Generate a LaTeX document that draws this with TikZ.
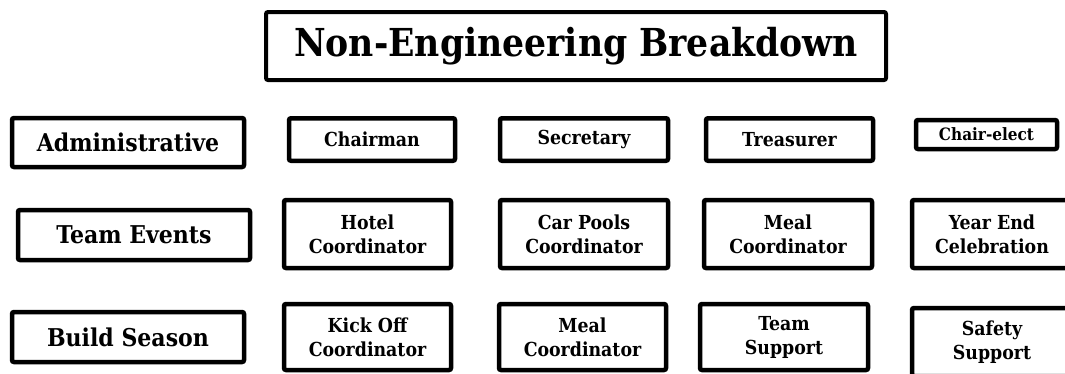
\documentclass[tikz,border=0pt]{standalone}
\usepackage{fontspec}
\setmainfont{DejaVu Serif Condensed}
\usetikzlibrary{positioning}

\begin{document}
\begin{tikzpicture}[x=1pt,y=-1pt,
  box/.style={draw, line width=4.5pt, rounded corners=2pt, align=center, inner sep=0pt,
    font=\bfseries\fontsize{19.3}{24}\selectfont},
  rowbox/.style={box, minimum width=232pt, minimum height=50pt,
    font=\bfseries\fontsize{24.5}{28}\selectfont},
  titlebox/.style={box, line width=4pt, font=\bfseries\fontsize{38.5}{44}\selectfont},
]
\useasboundingbox (0,0) rectangle (1065,373);
\clip (0,0) rectangle (1065,373);

\node[titlebox, minimum width=620pt, minimum height=68pt] (title) at (576,46) {Non-Engineering Breakdown};

% administrative row
\node[rowbox, minimum height=49pt] (admin) at (128,142.5) {Administrative};
\node[box, minimum width=166pt, minimum height=42.5pt] (chair) at (372,139.5) {Chairman};
\node[box, minimum width=168pt, minimum height=42.5pt] (secretary) at (584,139.5) {Secretary};
\node[box, minimum width=167pt, minimum height=42.5pt] (treasurer) at (789.5,139.5) {Treasurer};
\node[box, minimum width=141pt, minimum height=29pt, font=\bfseries\fontsize{17}{20}\selectfont] (elect) at (986.5,134.5) {Chair-elect};

% team events row
\node[rowbox] (events) at (134,235) {Team Events};
\node[box, minimum width=167pt, minimum height=68pt] (hotel) at (367.5,234) {Hotel\\Coordinator};
\node[box, minimum width=168pt, minimum height=68pt] (carpools) at (584,234) {Car Pools\\Coordinator};
\node[box, minimum width=168pt, minimum height=68pt] (mealevents) at (788,234) {Meal\\Coordinator};
\node[box, minimum width=160pt, minimum height=68pt] (yearend) at (992,234) {Year End\\Celebration};

% build season row
\node[rowbox] (build) at (128,337) {Build Season};
\node[box, minimum width=167pt, minimum height=66pt] (kickoff) at (367.5,337) {Kick Off\\Coordinator};
\node[box, minimum width=167pt, minimum height=66pt] (mealbuild) at (582.5,337) {Meal\\Coordinator};
\node[box, minimum width=168pt, minimum height=66pt] (teamsupport) at (784,337) {Team\\Support};
\node[box, minimum width=160pt, minimum height=68pt] (safety) at (992,342) {Safety\\Support};
\end{tikzpicture}
\end{document}
